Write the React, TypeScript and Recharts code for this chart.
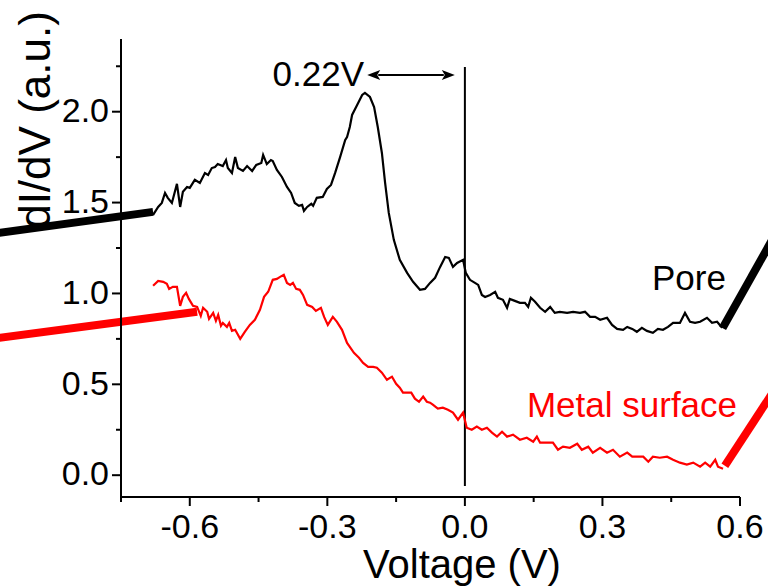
import React from 'react';
import { LineChart, Line, XAxis, YAxis, ReferenceLine } from 'recharts';

// Pore spectrum (black)
const poreVoltage = [
  -0.680, -0.669, -0.661, -0.654, -0.648, -0.639, -0.628, -0.621, -0.615, -0.606,
  -0.600, -0.589, -0.578, -0.567, -0.560, -0.552, -0.545, -0.539, -0.528, -0.521,
  -0.517, -0.508, -0.501, -0.495, -0.484, -0.475, -0.464, -0.455, -0.444, -0.440,
  -0.432, -0.423, -0.419, -0.410, -0.399, -0.388, -0.379, -0.371, -0.362, -0.355,
  -0.351, -0.344, -0.335, -0.331, -0.323, -0.310, -0.301, -0.292, -0.283, -0.272,
  -0.261, -0.257, -0.251, -0.246, -0.235, -0.224, -0.218, -0.207, -0.198, -0.190,
  -0.181, -0.174, -0.166, -0.155, -0.142, -0.126, -0.113, -0.098, -0.087, -0.076,
  -0.065, -0.054, -0.043, -0.035, -0.026, -0.017, -0.004, 0.002, 0.011, 0.022,
  0.029, 0.037, 0.044, 0.055, 0.066, 0.072, 0.083, 0.092, 0.098, 0.109,
  0.120, 0.131, 0.138, 0.144, 0.153, 0.164, 0.175, 0.186, 0.196, 0.207,
  0.223, 0.236, 0.251, 0.262, 0.273, 0.284, 0.295, 0.310, 0.321, 0.332,
  0.345, 0.354, 0.365, 0.375, 0.386, 0.397, 0.410, 0.421, 0.432, 0.443,
  0.454, 0.469, 0.480, 0.491, 0.502, 0.513, 0.528, 0.539, 0.550, 0.561,
];
const poreDIdV = [
  1.432, 1.476, 1.498, 1.553, 1.526, 1.498, 1.603, 1.476, 1.559, 1.586,
  1.581, 1.625, 1.608, 1.663, 1.652, 1.690, 1.696, 1.712, 1.701, 1.734,
  1.690, 1.663, 1.751, 1.690, 1.674, 1.701, 1.674, 1.707, 1.718, 1.762,
  1.712, 1.734, 1.729, 1.680, 1.641, 1.586, 1.553, 1.498, 1.482, 1.487,
  1.454, 1.476, 1.493, 1.482, 1.526, 1.531, 1.575, 1.597, 1.663, 1.751,
  1.844, 1.861, 1.916, 1.982, 2.037, 2.092, 2.103, 2.081, 2.026, 1.916,
  1.773, 1.608, 1.443, 1.295, 1.185, 1.113, 1.064, 1.020, 1.025, 1.058,
  1.086, 1.146, 1.201, 1.196, 1.146, 1.168, 1.185, 1.113, 1.075, 1.058,
  1.047, 0.992, 0.981, 0.992, 1.009, 0.976, 0.965, 0.921, 0.970, 0.959,
  0.948, 0.948, 0.926, 0.976, 0.954, 0.921, 0.899, 0.926, 0.893, 0.899,
  0.893, 0.899, 0.893, 0.899, 0.871, 0.871, 0.855, 0.866, 0.827, 0.805,
  0.800, 0.816, 0.805, 0.789, 0.811, 0.794, 0.783, 0.805, 0.800, 0.816,
  0.838, 0.838, 0.893, 0.844, 0.838, 0.844, 0.866, 0.838, 0.844, 0.811,
];

// Metal surface spectrum (red)
const metalVoltage = [
  -0.680, -0.669, -0.658, -0.650, -0.645, -0.637, -0.628, -0.621, -0.615, -0.608,
  -0.602, -0.593, -0.584, -0.576, -0.571, -0.562, -0.558, -0.549, -0.543, -0.538,
  -0.532, -0.528, -0.519, -0.514, -0.508, -0.501, -0.490, -0.480, -0.469, -0.458,
  -0.447, -0.438, -0.429, -0.419, -0.410, -0.403, -0.395, -0.388, -0.381, -0.375,
  -0.368, -0.360, -0.353, -0.344, -0.333, -0.325, -0.314, -0.307, -0.299, -0.288,
  -0.279, -0.268, -0.257, -0.251, -0.242, -0.231, -0.222, -0.211, -0.200, -0.192,
  -0.181, -0.170, -0.159, -0.150, -0.142, -0.135, -0.126, -0.117, -0.109, -0.100,
  -0.091, -0.083, -0.076, -0.070, -0.059, -0.048, -0.037, -0.026, -0.015, -0.004,
  0.004, 0.015, 0.026, 0.037, 0.048, 0.059, 0.070, 0.081, 0.092, 0.105,
  0.120, 0.135, 0.149, 0.157, 0.164, 0.179, 0.192, 0.203, 0.214, 0.229,
  0.245, 0.255, 0.269, 0.279, 0.295, 0.310, 0.323, 0.338, 0.354, 0.365,
  0.375, 0.389, 0.400, 0.410, 0.425, 0.441, 0.454, 0.469, 0.484, 0.498,
  0.513, 0.524, 0.535, 0.546, 0.552, 0.563,
];
const metalDIdV = [
  1.042, 1.069, 1.064, 1.053, 1.025, 1.036, 1.036, 0.932, 0.981, 1.003,
  0.970, 0.932, 0.926, 0.877, 0.921, 0.899, 0.860, 0.893, 0.849, 0.882,
  0.822, 0.838, 0.816, 0.838, 0.794, 0.800, 0.750, 0.789, 0.827, 0.855,
  0.910, 0.981, 1.009, 1.075, 1.080, 1.091, 1.102, 1.058, 1.047, 1.058,
  1.025, 1.020, 0.992, 0.937, 0.926, 0.904, 0.921, 0.871, 0.827, 0.871,
  0.844, 0.800, 0.728, 0.706, 0.673, 0.646, 0.618, 0.596, 0.596, 0.591,
  0.564, 0.525, 0.542, 0.503, 0.481, 0.454, 0.454, 0.454, 0.421, 0.404,
  0.432, 0.404, 0.399, 0.388, 0.366, 0.371, 0.360, 0.344, 0.305, 0.344,
  0.261, 0.250, 0.267, 0.250, 0.261, 0.234, 0.212, 0.239, 0.212, 0.223,
  0.195, 0.206, 0.184, 0.212, 0.179, 0.179, 0.179, 0.140, 0.157, 0.151,
  0.173, 0.140, 0.157, 0.124, 0.151, 0.124, 0.140, 0.102, 0.124, 0.102,
  0.102, 0.102, 0.074, 0.102, 0.096, 0.102, 0.085, 0.069, 0.058, 0.069,
  0.047, 0.069, 0.047, 0.085, 0.047, 0.036,
];

// Axis ticks
const xTicks = [-0.75, -0.6, -0.45, -0.3, -0.15, 0, 0.15, 0.3, 0.45, 0.6];
const xMajorTicks = [-0.6, -0.3, 0, 0.3, 0.6];
const xTickLabels = ['-0.6', '-0.3', '0.0', '0.3', '0.6'];
const yTicks = [0, 0.25, 0.5, 0.75, 1, 1.25, 1.5, 1.75, 2, 2.25];
const yMajorTicks = [0, 0.5, 1, 1.5, 2];
const yTickLabels = ['0.0', '0.5', '1.0', '1.5', '2.0'];

// Annotation geometry in data units
const zeroBiasLine = [{ x: 0, y: -0.06 }, { x: 0, y: 2.246 }];
const gapArrow = [{ x: -0.213, y: 2.202 }, { x: -0.022, y: 2.202 }];
const poreLeaderLeft = [{ x: -1.05, y: 1.321 }, { x: -0.68, y: 1.449 }];
const metalLeaderLeft = [{ x: -1.05, y: 0.744 }, { x: -0.584, y: 0.899 }];
const poreLeaderRight = [{ x: 0.562, y: 0.809 }, { x: 0.7, y: 1.429 }];
const metalLeaderRight = [{ x: 0.567, y: 0.052 }, { x: 0.7, y: 0.565 }];

const poreData = poreVoltage.map((v, i) => ({ v, g: poreDIdV[i] }));
const metalData = metalVoltage.map((v, i) => ({ v, g: metalDIdV[i] }));

const FONT = '"Liberation Sans", Arial, Helvetica, sans-serif';
const TICK_SIZE = 9;
const MINOR_SIZE = 5;
const X_MARGIN = 8;
const Y_MARGIN = 3;

const near = (a: number, b: number) => Math.abs(a - b) < 1e-6;

const XTick = (props: any) => {
  const { x, y, payload } = props;
  const idx = xMajorTicks.findIndex((t) => near(t, payload.value));
  const axisY = y - TICK_SIZE - X_MARGIN;
  return (
    <g>
      <line x1={x} x2={x} y1={axisY} y2={axisY + (idx >= 0 ? TICK_SIZE : MINOR_SIZE)} stroke="#000" strokeWidth={2} />
      {idx >= 0 && (
        <text x={x} y={y} dy="0.71em" textAnchor="middle" fontFamily={FONT} fontSize={34} fill="#000">
          {xTickLabels[idx]}
        </text>
      )}
    </g>
  );
};

const YTick = (props: any) => {
  const { x, y, payload } = props;
  const idx = yMajorTicks.findIndex((t) => near(t, payload.value));
  const axisX = x + TICK_SIZE + Y_MARGIN;
  return (
    <g>
      <line x1={axisX - (idx >= 0 ? TICK_SIZE : MINOR_SIZE)} x2={axisX} y1={y} y2={y} stroke="#000" strokeWidth={2} />
      {idx >= 0 && (
        <text x={x} y={y} dy="0.3em" textAnchor="end" fontFamily={FONT} fontSize={34} fill="#000">
          {yTickLabels[idx]}
        </text>
      )}
    </g>
  );
};

const ArrowShape = (p: any) => {
  const { x1, y1, x2, y2 } = p;
  const L = 13;
  const H = 5;
  return (
    <g>
      <line x1={x1 + L - 2} y1={y1} x2={x2 - L + 2} y2={y2} stroke="#000" strokeWidth={2} />
      <polygon points={`${x1},${y1} ${x1 + L},${y1 - H} ${x1 + L - 3},${y1} ${x1 + L},${y1 + H}`} fill="#000" />
      <polygon points={`${x2},${y2} ${x2 - L},${y2 - H} ${x2 - L + 3},${y2} ${x2 - L},${y2 + H}`} fill="#000" />
    </g>
  );
};

export default function App() {
  return (
    <div style={{ position: 'absolute', left: 0, top: 0, width: 768, height: 586, background: '#fff', overflow: 'hidden' }}>
      <LineChart width={768} height={586} margin={{ top: 39, right: 28, left: 0, bottom: 0 }}>
        <text
          x={50}
          y={120}
          transform="rotate(-90 50 120)"
          textAnchor="middle"
          fontFamily={FONT}
          fontSize={44}
          fill="#000"
        >
          dI/dV (a.u.)
        </text>
        <text x={462} y={578} textAnchor="middle" fontFamily={FONT} fontSize={40} fill="#000">
          Voltage (V)
        </text>
        <text x={364} y={86} textAnchor="end" fontFamily={FONT} fontSize={35} fill="#000">
          0.22V
        </text>
        <text x={652} y={290} textAnchor="start" fontFamily={FONT} fontSize={35} fill="#000">
          Pore
        </text>
        <text x={632} y={417} textAnchor="middle" fontFamily={FONT} fontSize={35} fill="#ff0000">
          Metal surface
        </text>
        <XAxis
          type="number"
          dataKey="v"
          domain={[-0.75, 0.6]}
          ticks={xTicks}
          interval={0}
          height={89}
          tickLine={false}
          tickSize={TICK_SIZE}
          tickMargin={X_MARGIN}
          axisLine={{ stroke: '#000', strokeWidth: 2 }}
          tick={<XTick />}
          allowDataOverflow
        />
        <YAxis
          type="number"
          domain={[-0.12, 2.4]}
          ticks={yTicks}
          interval={0}
          width={121}
          tickLine={false}
          tickSize={TICK_SIZE}
          tickMargin={Y_MARGIN}
          axisLine={{ stroke: '#000', strokeWidth: 2 }}
          tick={<YTick />}
          allowDataOverflow
        />
        <ReferenceLine segment={zeroBiasLine} stroke="#000" strokeWidth={2} ifOverflow="visible" />
        <ReferenceLine segment={gapArrow} ifOverflow="visible" shape={<ArrowShape />} />
        <Line data={poreData} dataKey="g" stroke="#000" strokeWidth={2.2} dot={false} isAnimationActive={false} />
        <Line data={metalData} dataKey="g" stroke="#ff0000" strokeWidth={2.2} dot={false} isAnimationActive={false} />
        <ReferenceLine segment={poreLeaderLeft} stroke="#000" strokeWidth={8} ifOverflow="visible" />
        <ReferenceLine segment={metalLeaderLeft} stroke="#ff0000" strokeWidth={8} ifOverflow="visible" />
        <ReferenceLine segment={poreLeaderRight} stroke="#000" strokeWidth={8} ifOverflow="visible" />
        <ReferenceLine segment={metalLeaderRight} stroke="#ff0000" strokeWidth={8} ifOverflow="visible" />
      </LineChart>
    </div>
  );
}
